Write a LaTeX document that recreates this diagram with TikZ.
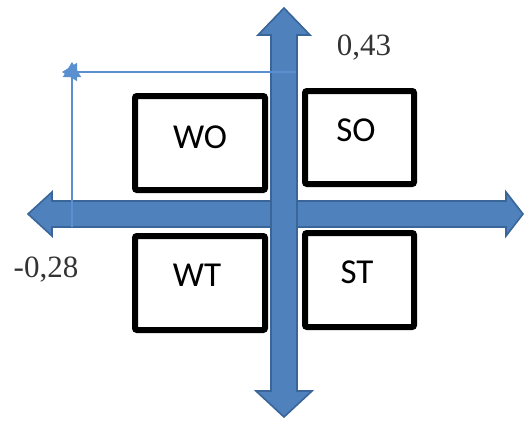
\documentclass[tikz,border=0pt]{standalone}
\usepackage{fontspec}
\setmainfont{Liberation Serif}
\newfontfamily\boxfont{Carlito}
\usetikzlibrary{arrows.meta}
\definecolor{axblue}{HTML}{4F81BD}
\definecolor{axedge}{HTML}{3A6599}
\definecolor{thinblue}{HTML}{5A8FD0}
\definecolor{numgrey}{HTML}{333333}
\tikzset{
  bigarrow/.style={fill=axblue, draw=axedge, line width=1.6pt, line join=miter},
  quad/.style={draw=black, line width=6pt, rounded corners=2pt, inner sep=0pt},
  quadtext/.style={font=\boxfont\fontsize{35}{35}\selectfont, inner sep=0pt},
  numtext/.style={font=\fontsize{31}{31}\selectfont, text=numgrey, inner sep=0pt},
  thinline/.style={draw=thinblue, line width=1.3pt, -{Triangle[width=18pt,length=15pt]}}
}
\begin{document}
\begin{tikzpicture}[x=1pt,y=-1pt]
\useasboundingbox (0,0) rectangle (525,421);
% horizontal double arrow
\fill[bigarrow] (28,214) -- (52,192) -- (52,201) -- (506,201) -- (506,192) -- (523,214)
  -- (506,236) -- (506,227) -- (52,227) -- (52,236) -- cycle;
% vertical double arrow
\fill[bigarrow] (284,8) -- (310,35) -- (297,35) -- (297,391) -- (312,391) -- (284,417)
  -- (256,391) -- (271,391) -- (271,35) -- (258,35) -- cycle;
% boxes
\node[quad, minimum width=130pt, minimum height=94pt] (wo) at (200,143) {};
\node[quad, minimum width=109pt, minimum height=93pt] (so) at (359.5,137.5) {};
\node[quad, minimum width=130pt, minimum height=94pt] (wt) at (200,283) {};
\node[quad, minimum width=109pt, minimum height=94pt] (st) at (359.5,280) {};
\node[quadtext] (wol) at (200,137) {WO};
\node[quadtext] (sol) at (356,130) {SO};
\node[quadtext] (wtl) at (197,275) {WT};
\node[quadtext] (stl) at (357,272) {ST};
% numbers
\node[numtext] (n43) at (364,48) {0,43};
\node[numtext] (n28) at (46,270) {-0,28};
% thin lines
\coordinate (vstart) at (72,227);
\coordinate (vend) at (72,62);
\coordinate (hstart) at (296,72);
\coordinate (hend) at (62,72);
\draw[thinline] (vstart) -- (vend);
\draw[thinline] (hstart) -- (hend);
\end{tikzpicture}
\end{document}
